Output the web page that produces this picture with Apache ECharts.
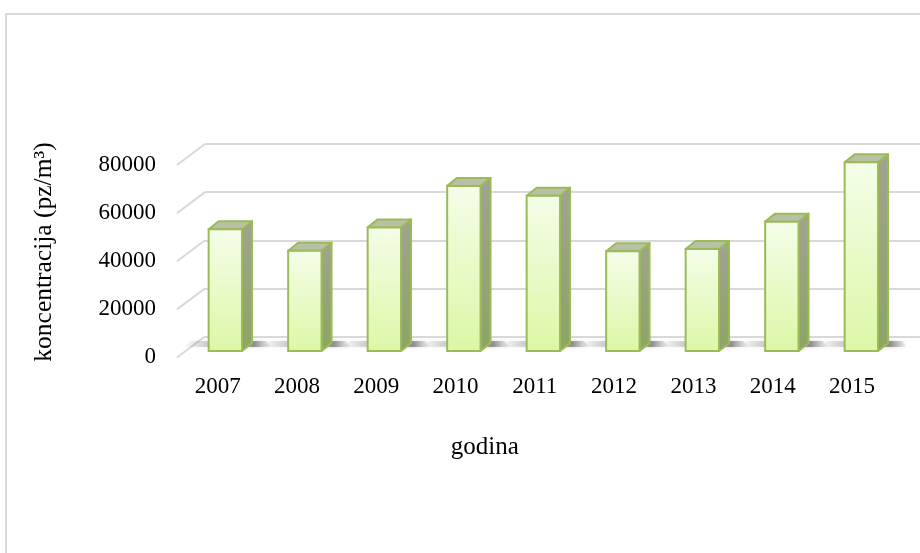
<!DOCTYPE html>
<html>
<head>
<meta charset="utf-8">
<script src="https://cdn.jsdelivr.net/npm/echarts@6/dist/echarts.min.js"></script>
<style>
html,body{margin:0;padding:0;background:#fff;}
#main{width:920px;height:553px;}
</style>
</head>
<body>
<div id="main"></div>
<script>
// ---- data ----
const years = ['2007','2008','2009','2010','2011','2012','2013','2014','2015'];
const values = [50700, 41800, 51500, 68800, 64700, 41600, 42500, 53900, 78600];
const yTicks = [0, 20000, 40000, 60000, 80000];
const yMin = 0, yMax = 80000, yStep = 20000;
const xTitle = 'godina';
const yTitle = 'koncentracija (pz/m³)';

// ---- style constants ----
const FONT = '"Liberation Serif", "Times New Roman", serif';
const DEPTH_DX = 28, DEPTH_DY = 21;   // side-wall perspective
const BAR_DX = 10, BAR_DY = 8;        // bar depth
const edge = '#9bbb59';

const chart = echarts.init(document.getElementById('main'), null, {renderer: 'canvas'});

function barItem(params, api) {
  const i = api.value(0);
  const v = api.value(1);
  const top = api.coord([i, v]);
  const base = api.coord([i, 0]);
  const w = api.size([1, 0])[0] * 0.42;
  const x = top[0] - w / 2;
  const yT = top[1], yB = base[1];
  const d = BAR_DX, h = BAR_DY;
  return {
    type: 'group',
    children: [
      { type: 'polygon', silent: true,
        shape: { points: [[x - 26, yB - 4], [x + w + d + 20, yB - 4], [x + w + d + 14, yB - 10], [x - 18, yB - 10]] },
        style: { fill: new echarts.graphic.LinearGradient(0, 0, 1, 0, [
            {offset: 0, color: 'rgba(90,90,90,0)'},
            {offset: 0.35, color: 'rgba(90,90,90,0.3)'},
            {offset: 0.8, color: 'rgba(60,60,60,0.5)'},
            {offset: 1, color: 'rgba(90,90,90,0)'}]),
          shadowBlur: 4, shadowColor: 'rgba(80,80,80,0.45)' } },
      { type: 'polygon',
        shape: { points: [[x + w, yT], [x + w + d, yT - h], [x + w + d, yB - h], [x + w, yB]] },
        style: { fill: new echarts.graphic.LinearGradient(0, 0, 0, 1, [
            {offset: 0, color: '#a0a38e'}, {offset: 1, color: '#8ca564'}]),
          stroke: edge, lineWidth: 2, lineJoin: 'round' } },
      { type: 'polygon',
        shape: { points: [[x, yT], [x + d, yT - h], [x + w + d, yT - h], [x + w, yT]] },
        style: { fill: '#b8c0a6', stroke: edge, lineWidth: 2, lineJoin: 'round' } },
      { type: 'rect',
        shape: { x: x, y: yT, width: w, height: yB - yT },
        style: { fill: new echarts.graphic.LinearGradient(0, 0, 0, 1, [
            {offset: 0, color: '#f5fde9'}, {offset: 1, color: '#dcf7a6'}]),
          stroke: edge, lineWidth: 2 } }
    ]
  };
}

function diagItem(params, api) {
  const p = api.coord([0, api.value(1)]);
  const x0 = params.coordSys.x;
  return {
    type: 'line', silent: true,
    shape: { x1: x0 - DEPTH_DX, y1: p[1] + DEPTH_DY, x2: x0, y2: p[1] },
    style: { stroke: '#d9d9d9', lineWidth: 2 }
  };
}

const option = {
  animation: false,
  backgroundColor: '#ffffff',
  graphic: [{
    type: 'rect', left: 5, top: 13, silent: true, z: -10,
    shape: { width: 960, height: 600 },
    style: { fill: '#fff', stroke: '#d9d9d9', lineWidth: 2 }
  }],
  grid: [
    // back wall
    { left: 205, right: -40, top: 144, bottom: 216.5 },
    // bar plane
    { left: 185.6, width: 715.5, top: 159, bottom: 202 },
    // front plane (labels)
    { left: 178, width: 713.6, top: 165, bottom: 196 }
  ],
  xAxis: [
    { gridIndex: 0, type: 'category', data: years, show: false },
    { gridIndex: 1, type: 'category', data: years, show: false },
    { gridIndex: 2, type: 'category', data: years,
      axisLine: {show: false}, axisTick: {show: false},
      axisLabel: { margin: 18, color: '#000', fontFamily: FONT, fontSize: 23 },
      name: xTitle, nameLocation: 'middle', nameGap: 78,
      nameTextStyle: { color: '#000', fontFamily: FONT, fontSize: 25, padding: [0, 100, 0, 0] } }
  ],
  yAxis: [
    { gridIndex: 0, type: 'value', min: yMin, max: yMax, interval: yStep,
      axisLine: {show: false}, axisTick: {show: false}, axisLabel: {show: false},
      splitLine: { lineStyle: { color: '#d9d9d9', width: 2 } } },
    { gridIndex: 1, type: 'value', min: yMin, max: yMax, interval: yStep, show: false,
      splitLine: {show: false} },
    { gridIndex: 2, type: 'value', min: yMin, max: yMax, interval: yStep,
      axisLine: {show: false}, axisTick: {show: false}, splitLine: {show: false},
      axisLabel: { margin: 22, color: '#000', fontFamily: FONT, fontSize: 23,
        formatter: v => String(v) },
      name: yTitle, nameLocation: 'middle', nameRotate: 90, nameGap: 121,
      nameTextStyle: { color: '#000', fontFamily: FONT, fontSize: 25.5, padding: [0, 0, 0, 18] } }
  ],
  series: [
    { type: 'custom', xAxisIndex: 0, yAxisIndex: 0, renderItem: diagItem,
      data: yTicks.map(t => [0, t]), z: 1, silent: true },
    { type: 'custom', xAxisIndex: 1, yAxisIndex: 1, renderItem: barItem,
      data: values.map((v, i) => [i, v]), z: 5 }
  ]
};
chart.setOption(option);
</script>
</body>
</html>
